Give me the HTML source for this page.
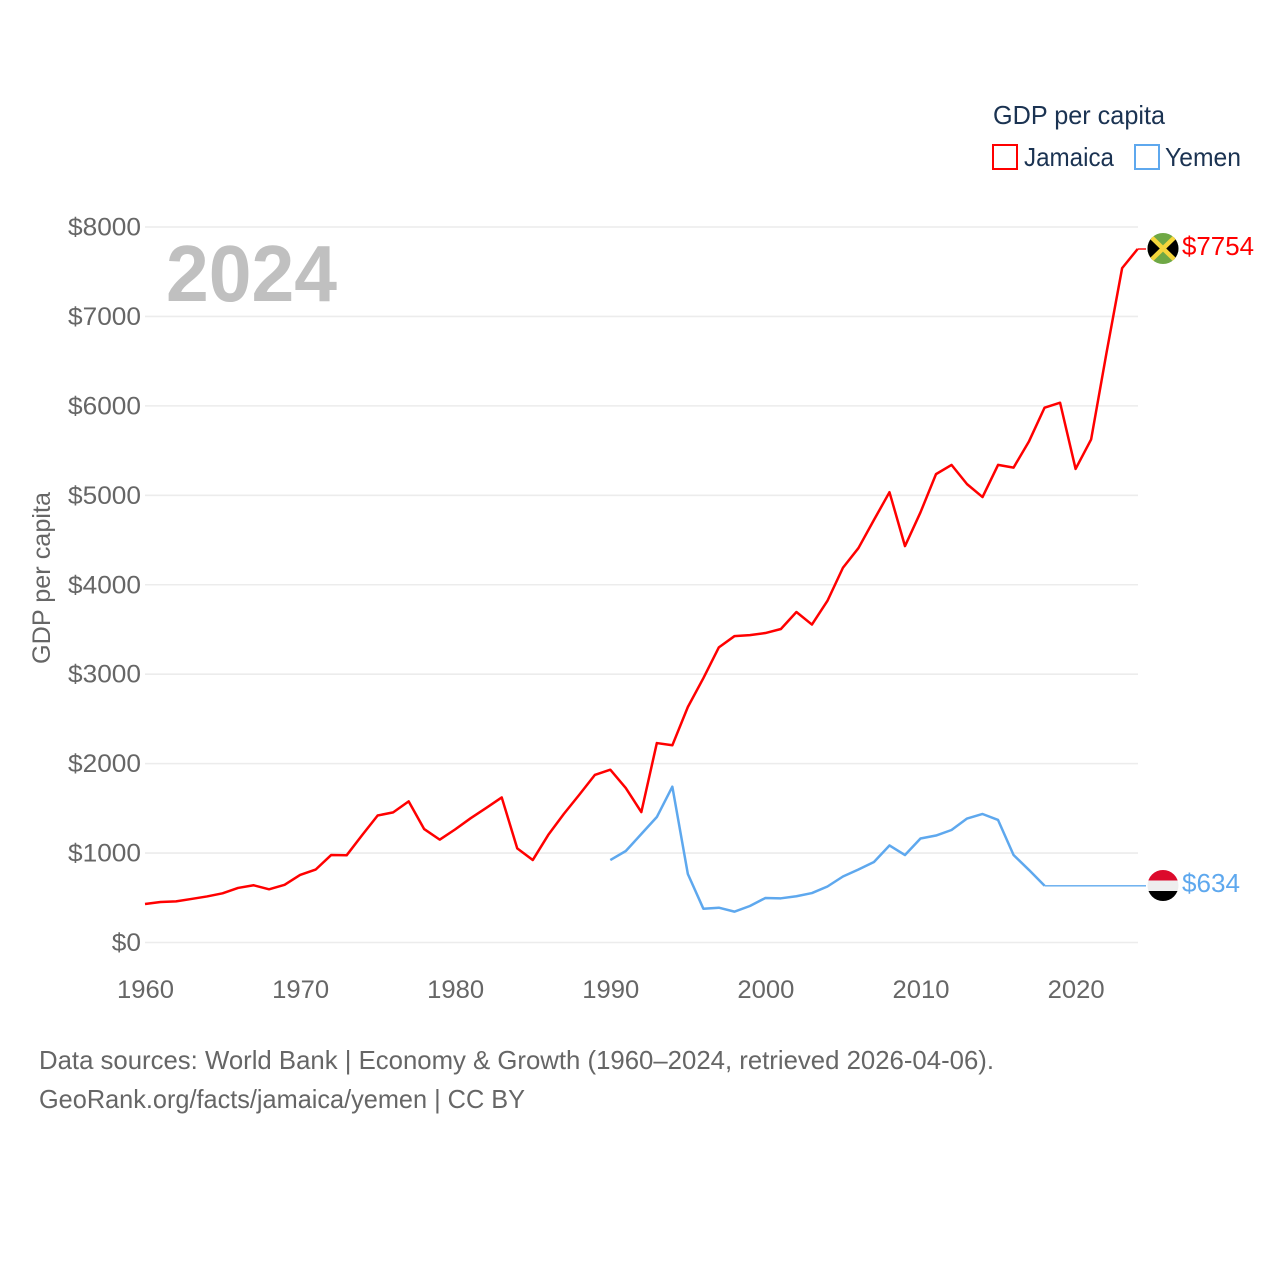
<!DOCTYPE html>
<html lang="en">
<head>
<meta charset="utf-8">
<title>GDP per capita: Jamaica and Yemen</title>
<style>
html,body{margin:0;padding:0;background:#fff;}
svg{display:block;font-family:"Liberation Sans",sans-serif;}
</style>
</head>
<body>
<svg id="chart" width="1280" height="1280" viewBox="0 0 1280 1280" xmlns="http://www.w3.org/2000/svg">
  <defs>
    <clipPath id="jm-clip"><circle cx="1163" cy="248.5" r="15.5"/></clipPath>
    <clipPath id="ye-clip"><circle cx="1163" cy="885.5" r="15.5"/></clipPath>
  </defs>
  <rect x="0" y="0" width="1280" height="1280" fill="#ffffff"/>
  <g id="grid"></g>
  <g id="y-ticks"></g>
  <g id="x-ticks"></g>
  <text transform="translate(50,578) rotate(-90)" text-anchor="middle" font-size="25" fill="#666666" textLength="172" lengthAdjust="spacingAndGlyphs">GDP per capita</text>
  <text x="166" y="301" font-size="80" font-weight="700" fill="#c0c0c0" textLength="171" lengthAdjust="spacingAndGlyphs">2024</text>
  <g id="series"></g>

  <g clip-path="url(#jm-clip)">
    <rect x="1147" y="233" width="32" height="32" fill="#6fa845"/>
    <polygon points="1147,233 1163,248.5 1147,264" fill="#000000"/>
    <polygon points="1179,233 1163,248.5 1179,264" fill="#000000"/>
    <line x1="1147" y1="233" x2="1179" y2="264" stroke="#f5d63c" stroke-width="4.5"/>
    <line x1="1179" y1="233" x2="1147" y2="264" stroke="#f5d63c" stroke-width="4.5"/>
  </g>
  <g clip-path="url(#ye-clip)">
    <rect x="1147" y="870" width="32" height="10.5" fill="#dc0a2c"/>
    <rect x="1147" y="880.5" width="32" height="10.5" fill="#eeeeee"/>
    <rect x="1147" y="891" width="32" height="11" fill="#000000"/>
  </g>
  <text id="jm-end" x="1182" y="255" font-size="26" fill="#ff0000" textLength="72" lengthAdjust="spacingAndGlyphs"></text>
  <text id="ye-end" x="1182" y="892" font-size="26" fill="#5ea8ee" textLength="58" lengthAdjust="spacingAndGlyphs"></text>

  <g>
    <text x="993" y="124" font-size="26" fill="#1b3352" textLength="172" lengthAdjust="spacingAndGlyphs">GDP per capita</text>
    <rect x="993" y="145" width="24" height="24" fill="none" stroke="#ff0000" stroke-width="2"/>
    <text x="1024" y="166" font-size="26" fill="#1b3352" textLength="90" lengthAdjust="spacingAndGlyphs">Jamaica</text>
    <rect x="1135" y="145" width="24" height="24" fill="none" stroke="#5ea8ee" stroke-width="2"/>
    <text x="1165" y="166" font-size="26" fill="#1b3352" textLength="76" lengthAdjust="spacingAndGlyphs">Yemen</text>
  </g>

  <text x="39" y="1069" font-size="26" fill="#666666" textLength="955" lengthAdjust="spacingAndGlyphs">Data sources: World Bank | Economy &amp; Growth (1960–2024, retrieved 2026-04-06).</text>
  <text x="39" y="1108" font-size="26" fill="#666666" textLength="486" lengthAdjust="spacingAndGlyphs">GeoRank.org/facts/jamaica/yemen | CC BY</text>
</svg>
<script>
var years = [1960,1961,1962,1963,1964,1965,1966,1967,1968,1969,1970,1971,1972,1973,1974,1975,1976,1977,1978,1979,1980,1981,1982,1983,1984,1985,1986,1987,1988,1989,1990,1991,1992,1993,1994,1995,1996,1997,1998,1999,2000,2001,2002,2003,2004,2005,2006,2007,2008,2009,2010,2011,2012,2013,2014,2015,2016,2017,2018,2019,2020,2021,2022,2023,2024];
var jamaicaValues = [430,453,460,487,515,550,610,640,595,645,755,815,978,975,1200,1420,1455,1578,1268,1150,1265,1390,1505,1622,1052,922,1203,1437,1652,1873,1932,1727,1458,2230,2205,2633,2955,3300,3425,3437,3460,3505,3695,3555,3820,4190,4410,4725,5035,4432,4810,5237,5340,5125,4980,5340,5310,5605,5980,6035,5295,5625,6600,7540,7754];
var yemenValues = [null,null,null,null,null,null,null,null,null,null,null,null,null,null,null,null,null,null,null,null,null,null,null,null,null,null,null,null,null,null,922,1023,1213,1403,1742,766,378,389,345,408,498,494,517,553,626,738,816,900,1085,978,1163,1196,1258,1386,1437,1370,978,810,634,634,634,634,634,634,634];
var xTickYears = [1960,1970,1980,1990,2000,2010,2020];
var yTickValues = [0,1000,2000,3000,4000,5000,6000,7000,8000];
var jamaicaEndLabel = "$7754";
var yemenEndLabel = "$634";

var SVG_NS = "http://www.w3.org/2000/svg";
function xScale(year) { return 145 + (year - 1960) * 15.51; }
function yScale(value) { return 942.5 - value * (942.5 - 227) / 8000; }

var gridGroup = document.getElementById("grid");
var yTickGroup = document.getElementById("y-ticks");
var xTickGroup = document.getElementById("x-ticks");
var seriesGroup = document.getElementById("series");

yTickValues.forEach(function (v) {
  var line = document.createElementNS(SVG_NS, "line");
  
  
  line.setAttribute("x1", 145);
  line.setAttribute("x2", 1138);
  line.setAttribute("y1", yScale(v));
  line.setAttribute("y2", yScale(v));
  line.setAttribute("stroke", "#ececec");
  line.setAttribute("stroke-width", "1.6");
  gridGroup.appendChild(line);

  var label = document.createElementNS(SVG_NS, "text");
  
  
  var str = "$" + v;
  label.textContent = str;
  label.setAttribute("x", 141);
  label.setAttribute("y", yScale(v) + 8.5);
  label.setAttribute("text-anchor", "end");
  label.setAttribute("font-size", "25");
  label.setAttribute("fill", "#666666");
  label.setAttribute("textLength", str.length * 14.6);
  label.setAttribute("lengthAdjust", "spacingAndGlyphs");
  yTickGroup.appendChild(label);
});

xTickYears.forEach(function (yr) {
  var label = document.createElementNS(SVG_NS, "text");
  
  
  label.textContent = String(yr);
  label.setAttribute("x", xScale(yr) + 0.5);
  label.setAttribute("y", 998);
  label.setAttribute("text-anchor", "middle");
  label.setAttribute("font-size", "25");
  label.setAttribute("fill", "#666666");
  label.setAttribute("textLength", "57");
  label.setAttribute("lengthAdjust", "spacingAndGlyphs");
  xTickGroup.appendChild(label);
});

/* Index where the trailing run of identical values begins (the flat tail). */
function flatStart(values) {
  var i = values.length - 1;
  while (i > 0 && values[i - 1] === values[i]) { i--; }
  return i;
}

function mainPath(values) {
  var end = flatStart(values);
  var d = "";
  for (var i = 0; i <= end; i++) {
    if (values[i] === null) { continue; }
    d += (d === "" ? "M" : "L") + xScale(years[i]).toFixed(2) + " " + yScale(values[i]).toFixed(2);
  }
  return d;
}

function tailPath(values, tailX) {
  var start = flatStart(values);
  var y = yScale(values[start]).toFixed(2);
  return "M" + xScale(years[start]).toFixed(2) + " " + y + "L" + tailX + " " + y;
}

var jamaicaLine = document.createElementNS(SVG_NS, "path");


jamaicaLine.setAttribute("d", mainPath(jamaicaValues));
jamaicaLine.setAttribute("fill", "none");
jamaicaLine.setAttribute("stroke", "#ff0000");
jamaicaLine.setAttribute("stroke-width", "2.5");
jamaicaLine.setAttribute("stroke-linejoin", "round");
seriesGroup.appendChild(jamaicaLine);

var jamaicaTail = document.createElementNS(SVG_NS, "path");


jamaicaTail.setAttribute("d", tailPath(jamaicaValues, 1146));
jamaicaTail.setAttribute("fill", "none");
jamaicaTail.setAttribute("stroke", "#ff0000");
jamaicaTail.setAttribute("stroke-width", "1.4");
seriesGroup.appendChild(jamaicaTail);

var yemenLine = document.createElementNS(SVG_NS, "path");


yemenLine.setAttribute("d", mainPath(yemenValues));
yemenLine.setAttribute("fill", "none");
yemenLine.setAttribute("stroke", "#5ea8ee");
yemenLine.setAttribute("stroke-width", "2.5");
yemenLine.setAttribute("stroke-linejoin", "round");
seriesGroup.appendChild(yemenLine);

var yemenTail = document.createElementNS(SVG_NS, "path");


yemenTail.setAttribute("d", tailPath(yemenValues, 1146));
yemenTail.setAttribute("fill", "none");
yemenTail.setAttribute("stroke", "#5ea8ee");
yemenTail.setAttribute("stroke-width", "1.4");
seriesGroup.appendChild(yemenTail);

document.getElementById("jm-end").textContent = jamaicaEndLabel;
document.getElementById("ye-end").textContent = yemenEndLabel;
</script>
</body>
</html>
